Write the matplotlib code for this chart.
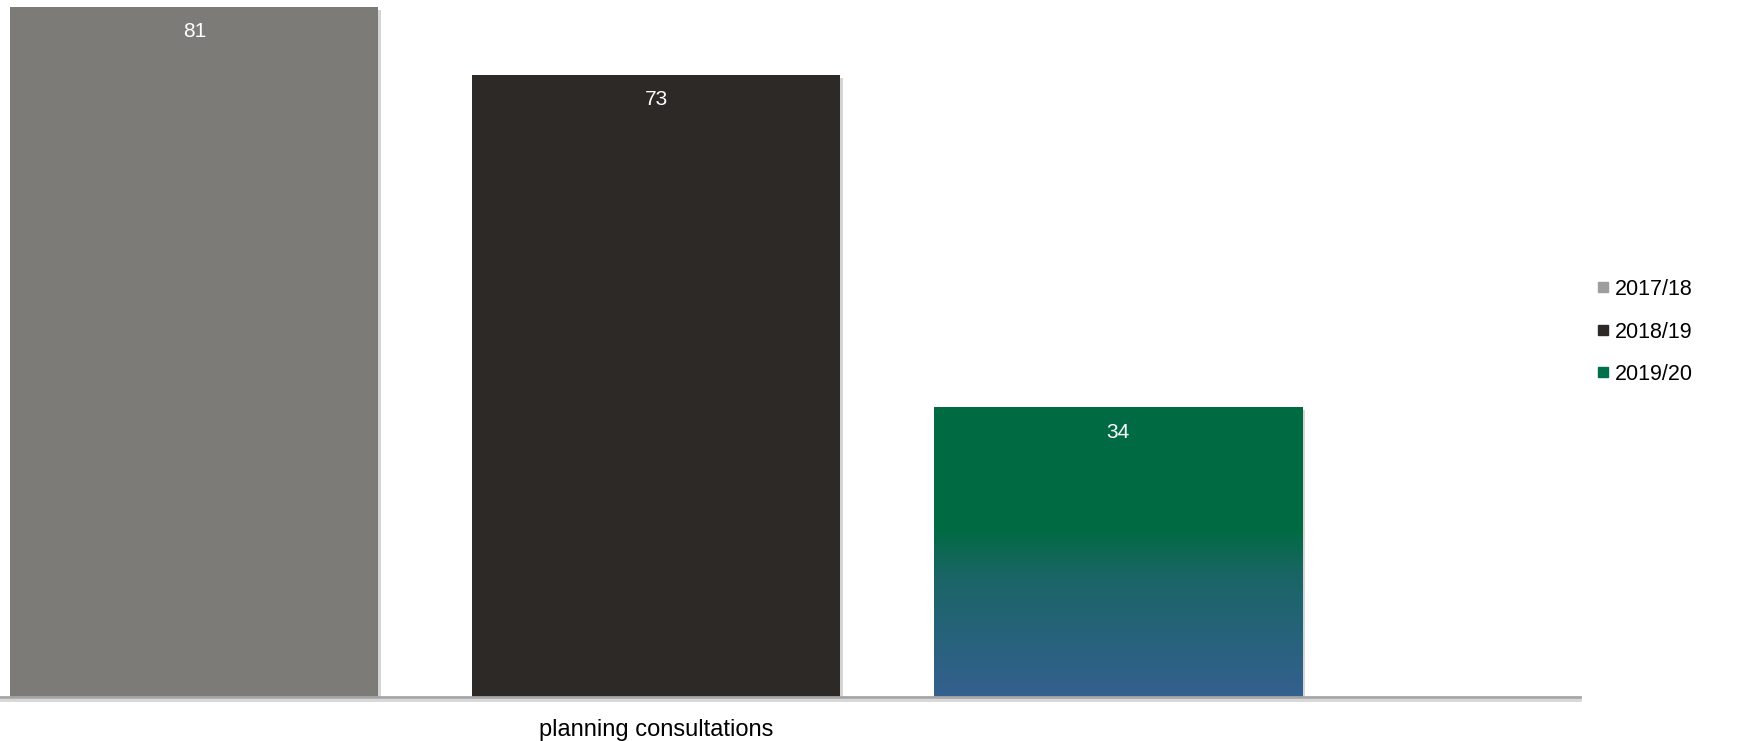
import numpy as np
import matplotlib
matplotlib.use("Agg")
import matplotlib.pyplot as plt
from matplotlib.colors import LinearSegmentedColormap
from matplotlib.lines import Line2D
import matplotlib.patheffects as pe

plt.rcParams['font.family'] = ['Liberation Sans', 'DejaVu Sans']

# ---- data ----
categories = ["planning consultations"]
series = ["2017/18", "2018/19", "2019/20"]
values = [81, 73, 34]
bar_colors = ["#7C7B78", "#2D2926", "#006B42"]
legend_colors = ["#9E9E9E", "#2D2926", "#00704A"]

W, H = 1747, 741
fig = plt.figure(figsize=(W / 100, H / 100), dpi=100)
ax = fig.add_axes([0, 44 / H, 1580 / W, 1 - 44 / H])

offsets = [-1, 0, 1]
width = 0.797
ax.set_xlim(-1.421, 2.0)
ax.set_ylim(0, 81.8)

shadow = [pe.SimplePatchShadow(offset=(2, -2), shadow_rgbFace="#888888", alpha=0.35), pe.Normal()]

bars = []
for i, (name, v, c) in enumerate(zip(series, values, bar_colors)):
    b = ax.bar(0 + offsets[i], v, width=width, color=c, edgecolor="none", zorder=2)[0]
    b.set_path_effects(shadow)
    bars.append(b)
    ax.text(0 + offsets[i], v - 2.9, str(v), ha="center", va="center",
            color="white", fontsize=15, zorder=5)

# gradient fill for the last bar
gb = bars[2]
x0, w = gb.get_x(), gb.get_width()
h = gb.get_height()
cmap = LinearSegmentedColormap.from_list(
    "g", [(0.0, "#34608F"), (0.42, "#1A6566"), (0.58, "#006B42"), (1.0, "#006B42")])
grad = np.linspace(0, 1, 256).reshape(-1, 1)
im = ax.imshow(grad, extent=(x0, x0 + w, 0, h), origin="lower", aspect="auto",
               cmap=cmap, zorder=3)
im.set_clip_path(gb)

ax.set_aspect("auto")
ax.set_xlim(-1.421, 2.0)
ax.set_ylim(0, 81.8)

for s in ["top", "right", "left"]:
    ax.spines[s].set_visible(False)
ax.spines["bottom"].set_color("#A6A6A6")
ax.spines["bottom"].set_linewidth(2)
ax.spines["bottom"].set_zorder(6)
ax.spines["bottom"].set_path_effects(
    [pe.SimpleLineShadow(offset=(0, -2), shadow_color="#999999", alpha=0.4), pe.Normal()])
ax.set_yticks([])
ax.set_xticks([0])
ax.set_xticklabels(categories, fontsize=17)
ax.tick_params(axis="x", length=0, pad=16)

handles = [Line2D([0], [0], marker="s", linestyle="none", markersize=7,
                  markerfacecolor=c, markeredgecolor=c) for c in legend_colors]
fig.legend(handles, series, loc="center left", bbox_to_anchor=(1573 / W, 1 - 332 / H),
           frameon=False, fontsize=15.5, handletextpad=0.05, labelspacing=1.0,
           handlelength=1.0)

fig.savefig("out.png", dpi=100)
